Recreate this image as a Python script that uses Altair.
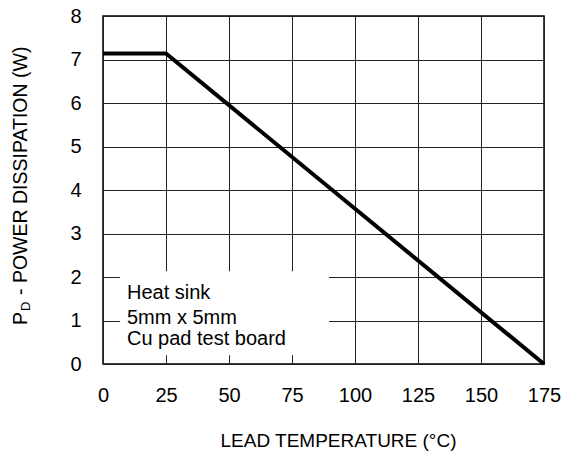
import altair as alt
import pandas as pd

# Data
temps = [0, 25, 175]
power = [7.14, 7.14, 0.0]

x_ticks = [0, 25, 50, 75, 100, 125, 150, 175]
y_ticks = [0, 1, 2, 3, 4, 5, 6, 7, 8]

note_lines = ["Heat sink", "5mm x 5mm", "Cu pad test board"]
note_y = [1.49, 0.93, 0.43]
note_x = 9.5
box = {"x0": 6.7, "x1": 89.7, "y0": 0.2, "y1": 2.13}

FONT = "Liberation Sans"

df = pd.DataFrame({"t": temps, "p": power})
notes = pd.DataFrame({"label": note_lines, "y": note_y, "x": [note_x] * len(note_lines)})
box_df = pd.DataFrame([box])

xscale = alt.Scale(domain=[0, 175], nice=False, zero=False)
yscale = alt.Scale(domain=[0, 8], nice=False)

xaxis = alt.Axis(
    values=x_ticks, title="LEAD TEMPERATURE (°C)", grid=True,
    gridColor="#222222", gridWidth=1, domain=False, ticks=False, tickSize=0,
    labelFontSize=20, labelPadding=21, labelColor="black", labelFont=FONT,
    titleFontSize=19, titleFontWeight="normal", titleFont=FONT, titleColor="black",
    titleX=235, titleY=82, titleBaseline="alphabetic", titleAnchor="start", titleAlign="center",
    labelFlush=False)
yaxis = alt.Axis(
    values=y_ticks, title=None, grid=True, gridColor="#222222", gridWidth=1,
    domain=False, ticks=False, tickSize=0, labelFontSize=20, labelPadding=22,
    labelColor="black", labelFont=FONT, labelFlush=False)

rect = alt.Chart(box_df).mark_rect(fill="white").encode(
    x=alt.X("x0:Q", scale=xscale, axis=xaxis),
    x2="x1:Q",
    y=alt.Y("y0:Q", scale=yscale, axis=yaxis),
    y2="y1:Q",
)

line = alt.Chart(df).mark_line(color="black", strokeWidth=4).encode(
    x=alt.X("t:Q", scale=xscale, title="LEAD TEMPERATURE (°C)"),
    y=alt.Y("p:Q", scale=yscale, title=None),
)

text = alt.Chart(notes).mark_text(align="left", baseline="alphabetic", fontSize=20,
                                   font=FONT, color="black").encode(
    x=alt.X("x:Q", scale=xscale, title="LEAD TEMPERATURE (°C)"),
    y=alt.Y("y:Q", scale=yscale, title=None),
    text="label:N",
)

one = pd.DataFrame({"a": [0]})
ytitle_p = alt.Chart(one).mark_text(text="P", angle=270, align="left", baseline="alphabetic",
                                    fontSize=19.5, font=FONT, color="black").encode(
    x=alt.value(-76), y=alt.value(309))
ytitle_d = alt.Chart(one).mark_text(text="D", angle=270, align="left", baseline="alphabetic",
                                    fontSize=13, font=FONT, color="black").encode(
    x=alt.value(-73), y=alt.value(295))
ytitle_rest = alt.Chart(one).mark_text(text="- POWER DISSIPATION (W)", angle=270, align="left",
                                       baseline="alphabetic", fontSize=19.5, font=FONT,
                                       color="black").encode(
    x=alt.value(-76), y=alt.value(279))

chart = alt.layer(rect, line, text, ytitle_p, ytitle_d, ytitle_rest).properties(
    width=441, height=348,
    autosize=alt.AutoSizeParams(type="none"),
    padding={"left": 95, "top": 8, "right": 17, "bottom": 87},
).configure(font=FONT, background="white").configure_view(stroke="black", strokeWidth=1.5)

chart.save("out.html", embed_options={"renderer": "svg", "actions": False})
